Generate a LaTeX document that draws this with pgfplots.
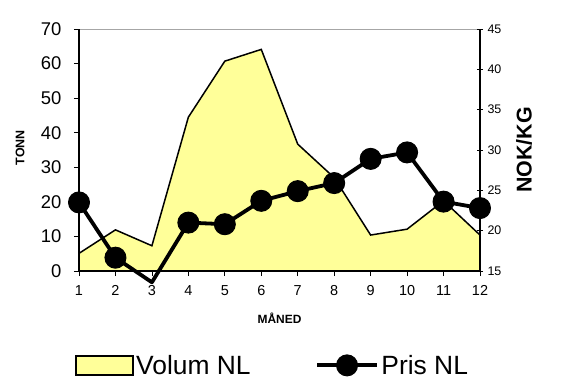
\documentclass[border=0pt]{standalone}
\usepackage{fontspec}
\setmainfont{Liberation Sans}
\usepackage{pgfplots}
\pgfplotsset{compat=1.18}
\definecolor{volfill}{RGB}{255,255,153}
\pgfplotsset{
  volleg/.style={legend image code/.code={\draw[##1] (0bp,-9.5bp) rectangle (57bp,9.5bp);}},
  prisleg/.style={legend image code/.code={\draw[##1, mark indices={2}] plot coordinates {(0bp,0bp)(30bp,0bp)(60bp,0bp)};}},
}
\begin{document}
\begin{tikzpicture}
\useasboundingbox (-79bp,-112bp) rectangle (486bp,271bp);
\begin{axis}[
  at={(0,0)}, anchor=south west,
  scale only axis, width=401bp, height=242bp,
  xmin=1, xmax=12, ymin=0, ymax=70,
  axis x line*=bottom, axis y line*=left,
  axis line style={-, black, line width=1.3bp},
  axis on top=true,
  xtick={1,...,12}, ytick={0,10,...,70},
  tick align=outside, major tick length=5bp,
  tick style={black, line width=0.8bp},
  /pgf/number format/assume math mode=true,
  xticklabel style={font=\fontsize{14.5}{14.5}\selectfont, yshift=-6bp},
  yticklabel style={font=\fontsize{18.5}{18.5}\selectfont, xshift=-9bp},
  every axis x label/.style={at={(axis description cs:0.5,-0.194)}, anchor=center, font=\fontsize{12}{12}\selectfont\bfseries},
  every axis y label/.style={at={(axis description cs:-0.147,0.51)}, anchor=center, rotate=90, font=\fontsize{12.5}{12.5}\selectfont\bfseries},
  xlabel={MÅNED}, ylabel={TONN},
]
\addplot[draw=black, line width=1.5bp, fill=volfill] coordinates {
 (1,5.1)(2,11.9)(3,7.3)(4,44.5)(5,60.7)(6,64.1)(7,36.7)(8,27.0)(9,10.4)(10,12.1)(11,20.3)(12,10.4)} \closedcycle;
\draw[gray!70, line width=1bp] (rel axis cs:0,1) -- (rel axis cs:1,1);
\end{axis}
\begin{axis}[
  at={(0,0)}, anchor=south west,
  scale only axis, width=401bp, height=242bp,
  xmin=1, xmax=12, ymin=15, ymax=45,
  axis x line=none, axis y line*=right,
  axis line style={-, black, line width=1.3bp},
  ytick={15,20,...,45},
  tick align=center, major tick length=6bp,
  tick style={black, line width=0.8bp},
  /pgf/number format/assume math mode=true,
  yticklabel style={font=\fontsize{12.5}{12.5}\selectfont, xshift=1bp},
  every axis y label/.style={at={(axis description cs:1.11,0.5)}, anchor=center, rotate=90, font=\fontsize{21.5}{21.5}\selectfont\bfseries},
  ylabel={NOK/KG},
  clip=false,
  legend style={at={(axis description cs:-0.01,-0.39)}, anchor=west, draw=none, fill=none, inner sep=0pt,
    legend columns=2, font=\fontsize{26.5}{26.5}\selectfont,
    nodes={inner sep=2.5bp}},
]
\addlegendimage{draw=black, line width=1.5bp, fill=volfill, volleg}
\addlegendentry{Volum NL\rule{62bp}{0pt}}
\addplot[black, line width=3.8bp, line join=round, mark=*, mark size=10.5bp,
  mark options={solid, fill=black, line width=1bp},
  mark indices={1,2,4,5,6,7,8,9,10,11,12}, prisleg]
 coordinates {(1,23.5)(2,16.65)(3,13.6)(4,21.0)(5,20.8)(6,23.7)(7,24.9)(8,25.9)(9,28.9)(10,29.7)(11,23.6)(12,22.8)};
\addlegendentry{Pris NL}
\end{axis}
\end{tikzpicture}
\end{document}
